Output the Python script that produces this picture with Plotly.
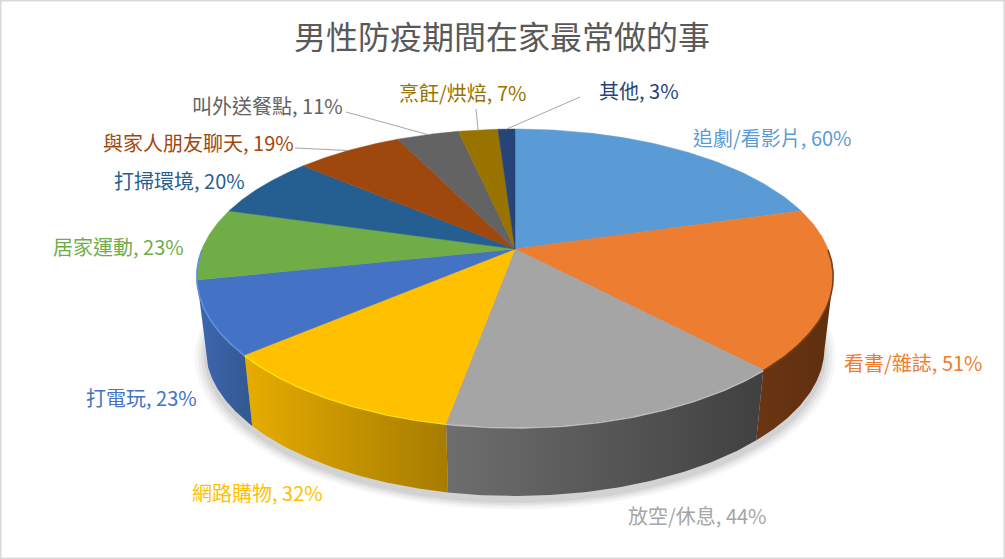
import numpy as np
import plotly.graph_objects as go

# values
categories = ["追劇/看影片", "看書/雜誌", "放空/休息", "網路購物", "打電玩", "居家運動",
              "打掃環境", "與家人朋友聊天", "叫外送餐點", "烹飪/烘焙", "其他"]
values = [60, 51, 44, 32, 23, 23, 20, 19, 11, 7, 3]
colors = ["#5B9BD5", "#ED7D31", "#A5A5A5", "#FFC000", "#4472C4", "#70AD47",
          "#255E91", "#9E480E", "#636363", "#997300", "#264478"]
title = "男性防疫期間在家最常做的事"

# side wall gradient, left colour -> right colour
side_colors = {
    1: ("#6B3512", "#5E2F10"),
    2: ("#6E6E6E", "#404040"),
    3: ("#E6AC00", "#A67C00"),
    4: ("#3D68B0", "#33588F"),
}
rim_colors = {1: "#7A4018", 2: "#BDBDBD", 3: "#FFE000", 4: "#5F8EE0"}

# label centre positions in pixels, same order as categories
label_x = [772, 913, 697, 257, 141, 118, 179, 198, 267, 462, 639]
label_y = [137, 362, 515, 492, 397, 246, 180, 142, 105, 92, 90]
leaders = {7: (295, 148), 8: (346, 112), 9: (476, 109), 10: (580, 97)}

# pie projection, a circle seen in perspective
CX, CY = 515, 249
A, B, K, KX = 313, 143.3, 0.1946, 0.18
DEPTH, SCALE = 74, 0.972


def project(theta, r=1.0, lower=False):
    u, v = r * np.sin(theta), r * np.cos(theta)
    s = SCALE if lower else 1.0
    d = DEPTH if lower else 0
    return CX + s * A * u / (1 + KX * v), CY + d - s * B * v / (1 + K * v)


fig = go.Figure()
cum = np.cumsum([0] + values) / sum(values) * 2 * np.pi

# soft shadow under the pie
for grow, alpha in [(1.035, 0.03), (1.025, 0.04), (1.015, 0.05), (1.005, 0.06)]:
    t = np.linspace(0, 2 * np.pi, 300)
    x, y = project(t, grow, lower=True)
    fig.add_trace(go.Scatter(x=x, y=y + 6, mode="lines", fill="toself", line_width=0,
                             fillcolor=f"rgba(0,0,0,{alpha})", hoverinfo="skip"))

# side walls, only the ones facing us
for i, (left, right) in side_colors.items():
    t = np.linspace(cum[i], cum[i + 1], 80)
    # orange and blue walls are hidden past the ellipse's side extremes
    if i == 1:
        t = np.linspace(np.pi / 2 + 0.2, cum[i + 1], 80)
    if i == 4:
        t = np.linspace(cum[i], 3 * np.pi / 2 - 0.2, 80)
    x1, y1 = project(t)
    x2, y2 = project(t[::-1], lower=True)
    fig.add_trace(go.Scatter(
        x=np.r_[x1, x2], y=np.r_[y1, y2], mode="lines", line_width=0, fill="toself",
        fillgradient=dict(type="horizontal", colorscale=[[0, left], [1, right]]),
        hoverinfo="skip"))

# top face
for i, c in enumerate(colors):
    t = np.linspace(cum[i], cum[i + 1], 80)
    x, y = project(t)
    fig.add_trace(go.Scatter(
        x=np.r_[CX, x, CX], y=np.r_[CY, y, CY], mode="lines", fill="toself",
        fillcolor=c, line=dict(color=c, width=0.5), name=categories[i],
        hovertemplate=f"{categories[i]}, {values[i]}%<extra></extra>"))

# bevel highlight along the front rim
for i, c in rim_colors.items():
    t = np.linspace(cum[i], cum[i + 1], 80)
    if i == 1:
        t = np.linspace(np.pi / 2, cum[i + 1], 80)
    if i == 4:
        t = np.linspace(cum[i], 3 * np.pi / 2, 80)
    x, y = project(t)
    fig.add_trace(go.Scatter(x=x, y=y + 1, mode="lines", line=dict(color=c, width=1.6),
                             hoverinfo="skip"))

# leader lines from the label to the middle of its slice edge
for i, (lx, ly) in leaders.items():
    ex, ey = project((cum[i] + cum[i + 1]) / 2)
    fig.add_trace(go.Scatter(x=[lx, ex], y=[ly, ey], mode="lines",
                             line=dict(color="#A6A6A6", width=1), hoverinfo="skip"))

for i, name in enumerate(categories):
    fig.add_annotation(x=label_x[i], y=label_y[i], text=f"{name}, {values[i]}%",
                       showarrow=False, font=dict(size=20, color=colors[i]))

fig.add_annotation(x=502, y=35, text=title, showarrow=False,
                   font=dict(size=32, color="#595959"))

# thin frame around the chart area
fig.add_shape(type="rect", x0=0, y0=0, x1=1005, y1=559, line=dict(color="#D9D9D9", width=3))

fig.update_xaxes(range=[0, 1005], visible=False)
fig.update_yaxes(range=[559, 0], visible=False)
fig.update_layout(
    width=1005, height=559, margin=dict(l=0, r=0, t=0, b=0),
    paper_bgcolor="white", plot_bgcolor="white", showlegend=False,
    font=dict(family="Noto Sans CJK TC"),
)
# the page's default body margin would push the chart 8px off
fig.write_html("out.html", config={"displayModeBar": False},
               post_script="document.body.style.margin='0';")
